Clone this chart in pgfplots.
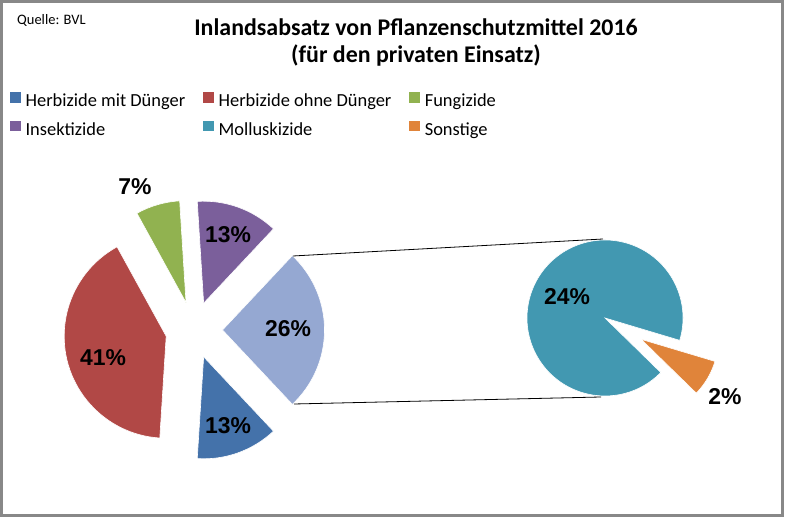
\documentclass[border=0pt]{standalone}
\usepackage{pgfplots}
\pgfplotsset{compat=1.18}
\usepackage{fontspec}
\setmainfont{Carlito}
\newfontfamily\lblfont{Liberation Sans}
\definecolor{cHmD}{RGB}{68,114,170}
\definecolor{cHoD}{RGB}{177,72,70}
\definecolor{cFung}{RGB}{145,178,80}
\definecolor{cIns}{RGB}{123,95,155}
\definecolor{cOther}{RGB}{149,168,210}
\definecolor{cMoll}{RGB}{66,152,177}
\definecolor{cSonst}{RGB}{224,132,58}
\definecolor{frame}{RGB}{136,136,136}
% slice: cx, cy, start angle, end angle, explode, radius, colour
\newcommand\slice[7]{%
  \pgfmathsetmacro\sMid{(#3+#4)/2}%
  \pgfmathsetmacro\sX{#1+#5*cos(\sMid)}%
  \pgfmathsetmacro\sY{#2+#5*sin(\sMid)}%
  \edef\sTmp{\noexpand\fill[#7,draw=white,line width=0.6bp] (axis cs:\sX,\sY) -- ++(#3:#6bp) arc[start angle=#3,end angle=#4,radius=#6bp] -- cycle;}%
  \sTmp}
\newcommand\sq[1]{\fill[#1] (0bp,0.5bp) rectangle (9.5bp,10bp); \path (15bp,0bp);}
\begin{document}
\begin{tikzpicture}
\begin{axis}[
  x=1bp, y=1bp, xmin=0, xmax=786, ymin=0, ymax=519,
  hide axis, clip=false, scale only axis,
  legend columns=3,
  legend cell align=left,
  legend style={at={(axis cs:10,427)}, anchor=north west, draw=none, fill=none,
    font=\fontsize{18.5}{22}\selectfont, inner sep=0pt, row sep=10bp,
    nodes={inner sep=0pt, text height=13bp, text depth=4bp},
    /tikz/every even column/.append style={column sep=18bp}},
]
\path (axis cs:0,0) rectangle (axis cs:786,519);
\draw[frame, line width=3bp] (axis cs:1.5,3.5) rectangle (axis cs:782.5,517.5);
% main pie: values in percent, "other" slice (26) centred at 0 degrees
\slice{194}{189}{-46.8}{46.8}{28.5}{102}{cOther}
\foreach \v/\c [remember=\b as \a (initially -46.8)] in {13/cHmD,41/cHoD,7/cFung,13/cIns}{
  \pgfmathsetmacro\b{\a-\v*3.6}
  \slice{194}{189}{\a}{\b}{28.5}{102}{\c}
}
% second pie: Molluskizide 24, Sonstige 2 (share of 26)
\pgfmathsetmacro\sw{2/26*360}
\pgfmathsetmacro\sa{-30.5-\sw/2}
\pgfmathsetmacro\sb{-30.5+\sw/2}
\pgfmathsetmacro\tb{\sa+360}
\slice{605}{201}{\sb}{\tb}{0}{78}{cMoll}
\slice{605}{201}{\sa}{\sb}{42}{77}{cSonst}
% connector lines
\draw[black, line width=0.8bp] (axis cs:293,263) -- (axis cs:603,280);
\draw[black, line width=0.8bp] (axis cs:294,115) -- (axis cs:601,122);
% legend
\addlegendimage{legend image code/.code={\sq{cHmD}}}
\addlegendentry{Herbizide mit Dünger}
\addlegendimage{legend image code/.code={\sq{cHoD}}}
\addlegendentry{Herbizide ohne Dünger}
\addlegendimage{legend image code/.code={\sq{cFung}}}
\addlegendentry{Fungizide}
\addlegendimage{legend image code/.code={\sq{cIns}}}
\addlegendentry{Insektizide}
\addlegendimage{legend image code/.code={\sq{cMoll}}}
\addlegendentry{Molluskizide}
\addlegendimage{legend image code/.code={\sq{cSonst}}}
\addlegendentry{Sonstige}
% titles
\node[anchor=base, font=\bfseries\fontsize{24}{28}\selectfont, inner sep=0pt] at (axis cs:416,483) {Inlandsabsatz von Pflanzenschutzmittel 2016};
\node[anchor=base, font=\bfseries\fontsize{24}{28}\selectfont, inner sep=0pt] at (axis cs:416,456) {(für den privaten Einsatz)};
\node[anchor=base west, font=\fontsize{14.5}{17}\selectfont, inner sep=0pt] at (axis cs:17,494) {Quelle: BVL};
% data labels
\begin{scope}[every node/.style={font=\lblfont\bfseries\fontsize{23}{27}\selectfont, inner sep=0pt}]
\node at (axis cs:135,332) {7\%};
\node at (axis cs:228,284) {13\%};
\node at (axis cs:288,190) {26\%};
\node at (axis cs:103,161) {41\%};
\node at (axis cs:228,93) {13\%};
\node at (axis cs:567,222) {24\%};
\node at (axis cs:725,122) {2\%};
\end{scope}
\end{axis}
\end{tikzpicture}
\end{document}
